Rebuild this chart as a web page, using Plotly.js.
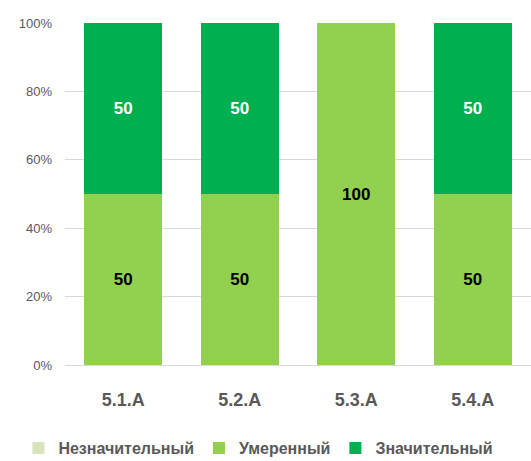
<!DOCTYPE html>
<html>
<head>
<meta charset="utf-8">
<script src="https://cdn.plot.ly/plotly-3.0.1.min.js"></script>
<style>
  html, body { margin: 0; padding: 0; background: #fff; }
  #chart { width: 531px; height: 461px; }
</style>
</head>
<body>
<div id="chart"></div>
<script>
// --- DATA ---
const categories = ['5.1.A', '5.2.A', '5.3.A', '5.4.A'];
const minorValues = [0, 0, 0, 0];
const moderateValues = [50, 50, 100, 50];
const significantValues = [50, 50, 0, 50];
const yTickValues = [0, 20, 40, 60, 80, 100];
const yTickLabels = ['0%', '20%', '40%', '60%', '80%', '100%'];

const FONT = 'Liberation Sans, Arial, sans-serif';

// Hide labels for zero segments
const labelsFor = values => values.map(v => (v ? String(v) : ''));

function makeTrace(name, values, color, textColor) {
    return {
        type: 'bar',
        name: name,
        x: categories,
        y: values,
        text: labelsFor(values),
        texttemplate: '%{text}',
        textposition: 'inside',
        insidetextanchor: 'middle',
        textangle: 0,
        constraintext: 'none',
        textfont: { family: FONT, size: 17, color: textColor, weight: 'bold' },
        marker: { color: color },
        hoverinfo: 'skip'
    };
}

const traces = [
    makeTrace('Незначительный', minorValues, '#D8E4BC', '#000000'),
    makeTrace('Умеренный', moderateValues, '#92D050', '#000000'),
    makeTrace('Значительный', significantValues, '#00B050', '#FFFFFF')
];

const layout = {
    width: 531,
    height: 461,
    barmode: 'stack',
    barnorm: 'percent',
    bargap: 0.333,
    margin: { l: 65, r: 0, t: 23, b: 96, autoexpand: false },
    paper_bgcolor: '#ffffff',
    plot_bgcolor: '#ffffff',
    showlegend: true,
    legend: {
        orientation: 'h',
        x: -0.1,
        xanchor: 'left',
        y: -0.243,
        yanchor: 'middle',
        font: { family: FONT, size: 16, color: '#595959', weight: 'bold' },
        itemwidth: 30,
        tracegroupgap: 0,
        traceorder: 'normal'
    },
    xaxis: {
        type: 'category',
        showgrid: false,
        showline: false,
        ticks: '',
        ticklabelstandoff: 22,
        tickfont: { family: FONT, size: 18, color: '#595959', weight: 'bold' }
    },
    yaxis: {
        range: [0, 100],
        tickvals: yTickValues,
        ticktext: yTickLabels,
        showgrid: true,
        gridcolor: '#D9D9D9',
        gridwidth: 1,
        zeroline: true,
        zerolinecolor: '#D9D9D9',
        showline: false,
        ticks: '',
        ticklabelstandoff: 12,
        tickfont: { family: FONT, size: 13, color: '#595959' }
    }
};

Plotly.newPlot('chart', traces, layout, { staticPlot: true, displayModeBar: false });
</script>
</body>
</html>
